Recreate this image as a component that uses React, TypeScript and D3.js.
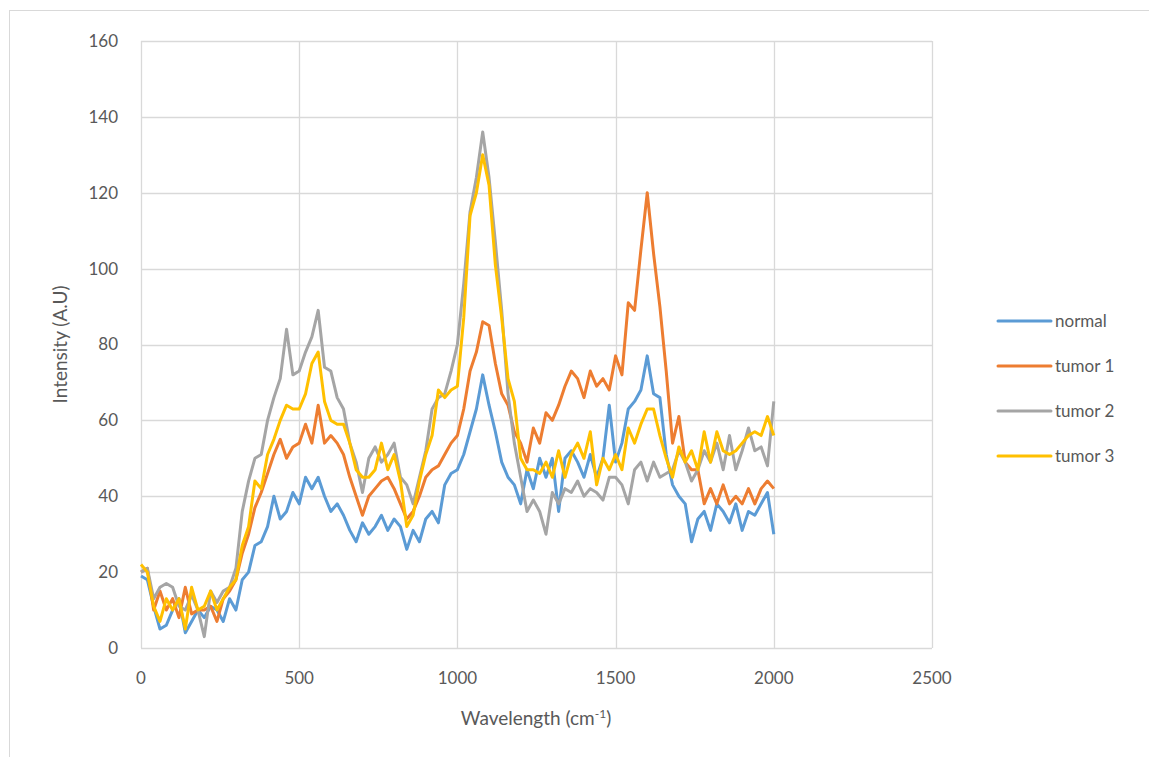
import React, { useRef, useEffect } from 'react';
import * as d3 from 'd3';

// wavelength grid (cm-1), one reading every 20 units
const wavelengths = d3.range(0, 2001, 20);

const normal = [
  19, 18, 11, 5, 6, 10, 13, 4, 7, 10, 8, 11, 10, 7, 13, 10, 18, 20, 27, 28,
  32, 40, 34, 36, 41, 38, 45, 42, 45, 40, 36, 38, 35, 31, 28, 33, 30, 32, 35, 31,
  34, 32, 26, 31, 28, 34, 36, 33, 43, 46, 47, 51, 57, 63, 72, 64, 57, 49, 45, 43,
  38, 47, 42, 50, 45, 50, 36, 50, 52, 49, 45, 51, 45, 50, 64, 49, 54, 63, 65, 68,
  77, 67, 66, 51, 43, 40, 38, 28, 34, 36, 31, 38, 36, 33, 38, 31, 36, 35, 38, 41,
  30,
];

const tumor1 = [
  20, 21, 10, 15, 10, 13, 8, 16, 9, 10, 10, 11, 7, 13, 15, 18, 25, 30, 37, 41,
  46, 51, 55, 50, 53, 54, 59, 54, 64, 54, 56, 54, 51, 45, 40, 35, 40, 42, 44, 45,
  42, 38, 34, 36, 40, 45, 47, 48, 51, 54, 56, 63, 73, 78, 86, 85, 75, 67, 64, 57,
  54, 49, 58, 54, 62, 60, 64, 69, 73, 71, 66, 73, 69, 71, 68, 77, 72, 91, 89, 105,
  120, 104, 90, 73, 54, 61, 49, 47, 47, 38, 42, 38, 43, 38, 40, 38, 42, 38, 42, 44,
  42,
];

const tumor2 = [
  20, 21, 13, 16, 17, 16, 11, 10, 14, 10, 3, 15, 12, 15, 16, 21, 36, 44, 50, 51,
  60, 66, 71, 84, 72, 73, 78, 82, 89, 74, 73, 66, 63, 54, 49, 41, 50, 53, 49, 51,
  54, 45, 43, 38, 45, 52, 63, 66, 67, 73, 80, 96, 115, 124, 136, 124, 107, 89, 67, 54,
  45, 36, 39, 36, 30, 41, 38, 42, 41, 44, 40, 42, 41, 39, 45, 45, 43, 38, 47, 49,
  44, 49, 45, 46, 47, 52, 49, 44, 47, 52, 49, 54, 47, 56, 47, 52, 58, 52, 53, 48,
  65,
];

const tumor3 = [
  22, 20, 11, 7, 13, 10, 13, 5, 16, 10, 11, 15, 10, 13, 16, 18, 27, 32, 44, 42,
  51, 55, 60, 64, 63, 63, 67, 75, 78, 65, 60, 59, 59, 54, 47, 45, 45, 47, 54, 47,
  51, 44, 32, 35, 44, 51, 56, 68, 66, 68, 69, 87, 114, 120, 130, 122, 101, 87, 71, 65,
  50, 47, 47, 46, 49, 45, 52, 45, 51, 54, 50, 57, 43, 50, 47, 51, 47, 58, 54, 59,
  63, 63, 56, 50, 45, 53, 49, 52, 47, 57, 49, 57, 52, 51, 52, 54, 56, 57, 56, 61,
  56,
];

const seriesNames = ['normal', 'tumor 1', 'tumor 2', 'tumor 3'];
const seriesValues = [normal, tumor1, tumor2, tumor3];
const seriesColors = ['#5B9BD5', '#ED7D31', '#A5A5A5', '#FFC000'];

const xTicks = [0, 500, 1000, 1500, 2000, 2500];
const yTicks = [0, 20, 40, 60, 80, 100, 120, 140, 160];

const WIDTH = 1149;
const HEIGHT = 757;
const FONT = 'Lato, "Open Sans", sans-serif';
const TEXT = '#595959';
const GRID = '#d9d9d9';

export default function App() {
  const svgRef = useRef<SVGSVGElement>(null);

  useEffect(() => {
    if (!svgRef.current) return;
    const svg = d3.select(svgRef.current);
    svg.selectAll('*').remove();

    const x = d3.scaleLinear().domain([0, 2500]).range([141, 932]);
    const y = d3.scaleLinear().domain([0, 160]).range([648, 41]);

    // outer chart border
    svg.append('rect')
      .attr('x', 9.5).attr('y', 10.5)
      .attr('width', WIDTH).attr('height', HEIGHT)
      .attr('fill', '#fff').attr('stroke', GRID);

    const grid = svg.append('g');
    grid.selectAll('line.h').data(yTicks).join('line')
      .attr('class', 'h')
      .attr('x1', x(0)).attr('x2', x(2500))
      .attr('y1', (d) => Math.round(y(d)) + 0.5).attr('y2', (d) => Math.round(y(d)) + 0.5)
      .attr('stroke', GRID).attr('stroke-width', 1.3);
    grid.selectAll('line.v').data(xTicks).join('line')
      .attr('class', 'v')
      .attr('y1', y(0)).attr('y2', y(160))
      .attr('x1', (d) => Math.round(x(d)) + 0.5).attr('x2', (d) => Math.round(x(d)) + 0.5)
      .attr('stroke', GRID).attr('stroke-width', 1.3);

    // tick labels
    svg.append('g').selectAll('text').data(yTicks).join('text')
      .attr('x', 118).attr('y', (d) => y(d))
      .attr('dy', '0.35em').attr('text-anchor', 'end')
      .attr('font-family', FONT).attr('font-size', 17).attr('fill', TEXT)
      .text((d) => d);
    svg.append('g').selectAll('text').data(xTicks).join('text')
      .attr('x', (d) => x(d)).attr('y', 684)
      .attr('text-anchor', 'middle')
      .attr('font-family', FONT).attr('font-size', 17).attr('fill', TEXT)
      .text((d) => d);

    // axis titles
    svg.append('text')
      .attr('transform', `translate(67,${y(80)}) rotate(-90)`)
      .attr('text-anchor', 'middle')
      .attr('font-family', FONT).attr('font-size', 19).attr('fill', TEXT)
      .text('Intensity (A.U)');
    const xt = svg.append('text')
      .attr('x', 536).attr('y', 725)
      .attr('text-anchor', 'middle')
      .attr('font-family', FONT).attr('font-size', 19).attr('fill', TEXT);
    xt.append('tspan').text('Wavelength (cm');
    xt.append('tspan').attr('dy', -7).attr('font-size', 12).text('-1');
    xt.append('tspan').attr('dy', 7).text(')');

    // series lines
    const line = d3.line<number>()
      .x((_, i) => x(wavelengths[i]))
      .y((d) => y(d));
    svg.append('g').selectAll('path').data(seriesValues).join('path')
      .attr('d', (d) => line(d))
      .attr('fill', 'none')
      .attr('stroke', (_, i) => seriesColors[i])
      .attr('stroke-width', 3)
      .attr('stroke-linejoin', 'round');

    // legend
    const lg = svg.append('g').selectAll('g').data(seriesNames).join('g')
      .attr('transform', (_, i) => `translate(998,${321 + i * 45})`);
    lg.append('line')
      .attr('x1', 0).attr('x2', 53).attr('y1', 0).attr('y2', 0)
      .attr('stroke', (_, i) => seriesColors[i])
      .attr('stroke-width', 3).attr('stroke-linecap', 'round');
    lg.append('text')
      .attr('x', 57).attr('dy', '0.35em')
      .attr('font-family', FONT).attr('font-size', 17).attr('fill', TEXT)
      .text((d) => d);
  }, []);

  return (
    <svg
      ref={svgRef}
      width={WIDTH}
      height={HEIGHT}
      style={{ position: 'absolute', left: 0, top: 0, background: '#fff' }}
    />
  );
}
